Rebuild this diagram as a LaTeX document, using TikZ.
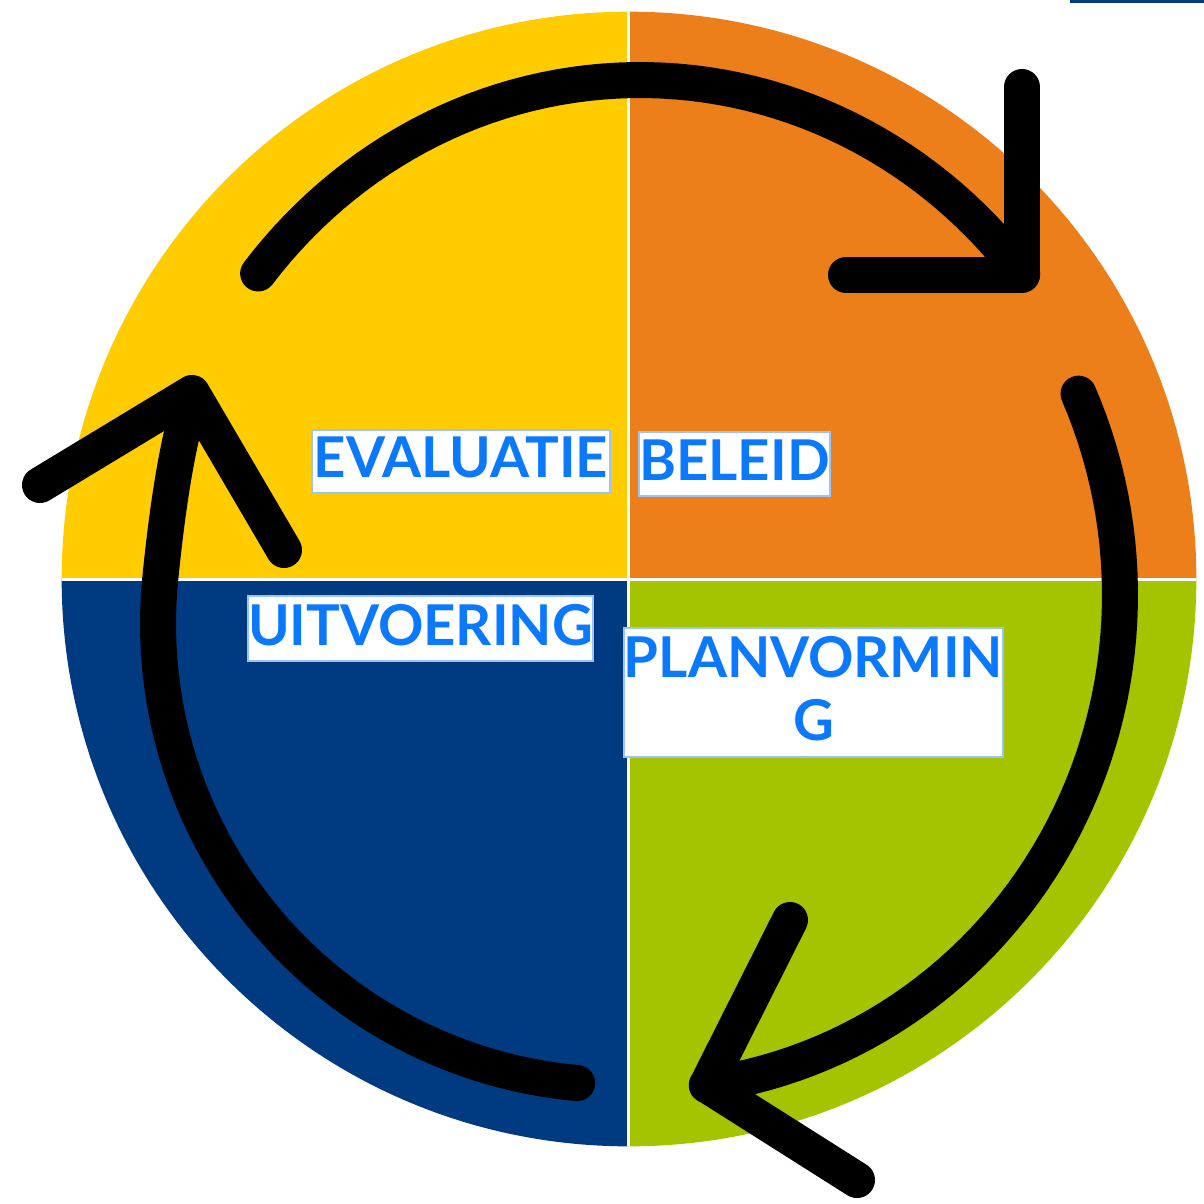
\documentclass[tikz,border=0pt]{standalone}
\usepackage{fontspec}
\setmainfont{Lato}
\usepackage{tikz}

\definecolor{quadyellow}{HTML}{FFCC00}
\definecolor{quadorange}{HTML}{EC7F1A}
\definecolor{quadgreen}{HTML}{A5C400}
\definecolor{quadblue}{HTML}{003A80}
\definecolor{labelblue}{HTML}{0B79FF}
\definecolor{labelborder}{HTML}{9CC3F5}

\tikzset{
  cyclearrow/.style={line width=0.36cm, line cap=round, line join=round, black},
  quadlabel/.style={draw=labelborder, line width=0.6pt, fill=white, text=labelblue,
    font=\fontsize{16}{18}\selectfont\bfseries, inner sep=0pt, align=center, text depth=0.08cm},
}

\begin{document}
\begin{tikzpicture}[x=0.01cm, y=-0.01cm]
            \useasboundingbox (0,0) rectangle (1204,1203);

            % Quadrants
            \begin{scope}
                \clip (629,579) circle (5.67cm);
                \fill[quadyellow] (0,0) rectangle (629,579);
                \fill[quadorange] (629,0) rectangle (1204,579);
                \fill[quadgreen] (629,579) rectangle (1204,1203);
                \fill[quadblue] (0,579) rectangle (629,1203);
                \draw[white, line width=0.03cm] (628.5,0) -- (628.5,1203);
                \draw[white, line width=0.03cm] (0,579) -- (1204,579);
            \end{scope}

            % Strip top right
            \fill[quadblue] (1070,0) rectangle (1204,3);

            % Top arrow
            \draw[cyclearrow] plot[domain=218.8:321.25, samples=60] ({640+490*cos(\x)}, {598+518*sin(\x)});
            \draw[cyclearrow] (1022,87) -- (1022,275) -- (846,275);

            % Right arrow
            \draw[cyclearrow] plot[domain=-24:82, samples=60] ({640+480*cos(\x)}, {595+495*sin(\x)});
            \draw[cyclearrow] (790,920) -- (707,1085) -- (857,1180);

            % Left arrow
            \draw[cyclearrow] plot[domain=95.2:185.5, samples=60] ({619+461*cos(\x)}, {624+461*sin(\x)})
                .. controls (166,520) and (176,445) .. (192,397);
            \draw[cyclearrow] (40,485) -- (192,393) -- (284,550);

            % Labels
            \node[quadlabel, minimum width=2.98cm, minimum height=0.63cm] (evaluatie) at (461,461.5) {EVALUATIE};
            \node[quadlabel, minimum width=1.89cm, minimum height=0.64cm] (beleid) at (734.5,464) {BELEID};
            \node[quadlabel, minimum width=3.45cm, minimum height=0.65cm] (uitvoering) at (420.5,628.5) {UITVOERING};
            \node[quadlabel, minimum width=3.77cm, minimum height=1.29cm] (planvorming) at (813.5,692.5) {PLANVORMIN\\G};

        \end{tikzpicture}
\end{document}
